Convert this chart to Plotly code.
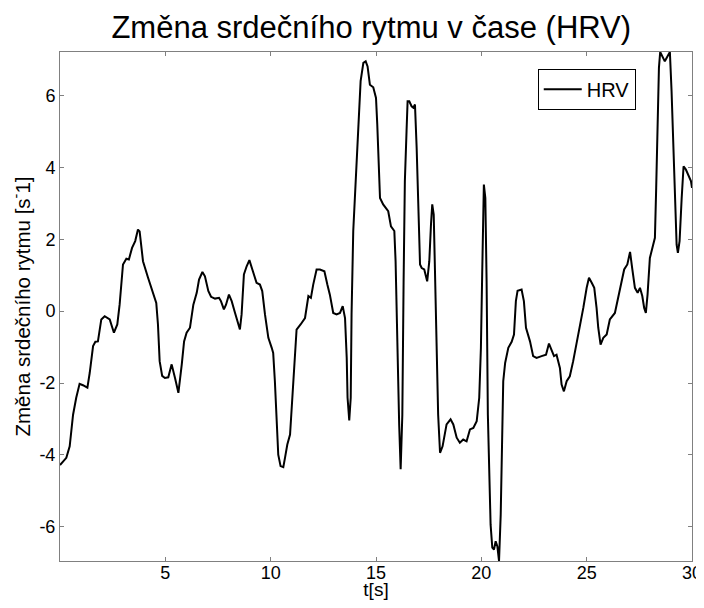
import plotly.graph_objects as go

t = [0.0, 0.3, 0.46, 0.62, 0.77, 0.93, 1.09, 1.30, 1.41, 1.57, 1.68, 1.80, 1.96, 2.12, 2.36, 2.56, 2.72, 2.83, 2.99, 3.15,
     3.27, 3.42, 3.57, 3.70, 3.78, 3.94, 4.18, 4.41, 4.57, 4.65, 4.73, 4.85, 4.98, 5.14, 5.30, 5.46, 5.62, 5.78, 5.89, 6.01,
     6.17, 6.33, 6.49, 6.60, 6.76, 6.88, 7.04, 7.17, 7.36, 7.55, 7.64, 7.78, 7.88, 8.02, 8.15, 8.31, 8.43, 8.54, 8.62, 8.73,
     8.86, 8.99, 9.13, 9.33, 9.49, 9.60, 9.73, 9.89, 10.05, 10.12, 10.20, 10.28, 10.36, 10.47, 10.60, 10.68, 10.79, 10.92, 11.0, 11.11,
     11.23, 11.42, 11.63, 11.79, 11.91, 12.02, 12.18, 12.34, 12.55, 12.69, 12.81, 12.97, 13.13, 13.29, 13.42, 13.53, 13.61, 13.65, 13.73, 13.80,
     13.84, 13.92, 14.05, 14.16, 14.27, 14.40, 14.51, 14.60, 14.71, 14.87, 15.0, 15.06, 15.11, 15.19, 15.34, 15.58, 15.71, 15.87, 15.93, 15.98,
     16.06, 16.10, 16.17, 16.25, 16.31, 16.37, 16.45, 16.50, 16.58, 16.69, 16.77, 16.85, 16.93, 17.01, 17.09, 17.17, 17.29, 17.43, 17.53, 17.61,
     17.67, 17.74, 17.80, 17.88, 17.95, 18.04, 18.16, 18.35, 18.54, 18.67, 18.83, 18.98, 19.14, 19.30, 19.46, 19.62, 19.78, 19.90, 19.98, 20.04,
     20.12, 20.19, 20.25, 20.31, 20.38, 20.44, 20.52, 20.60, 20.68, 20.76, 20.84, 20.92, 20.98, 21.04, 21.13, 21.28, 21.44, 21.55, 21.64, 21.72,
     21.91, 22.02, 22.12, 22.31, 22.46, 22.62, 22.86, 23.07, 23.21, 23.34, 23.45, 23.57, 23.73, 23.81, 23.92, 24.05, 24.20, 24.36, 24.52, 24.68,
     24.84, 25.0, 25.11, 25.24, 25.36, 25.47, 25.55, 25.66, 25.79, 25.95, 26.10, 26.34, 26.50, 26.66, 26.78, 26.93, 27.06, 27.16, 27.29, 27.42,
     27.53, 27.64, 27.73, 27.81, 27.89, 28.0, 28.11, 28.24, 28.30, 28.37, 28.43, 28.49, 28.59, 28.71, 28.84, 28.95, 29.03, 29.11, 29.19, 29.27,
     29.33, 29.41, 29.51, 29.60, 29.71, 29.82, 29.95, 30.0]

hrv = [-4.28, -4.08, -3.76, -2.88, -2.41, -2.02, -2.06, -2.13, -1.72, -0.97, -0.85, -0.84, -0.23, -0.14, -0.23, -0.60, -0.37, 0.18, 1.30, 1.46,
       1.44, 1.76, 1.95, 2.27, 2.22, 1.39, 0.93, 0.51, 0.23, -0.37, -1.39, -1.80, -1.86, -1.84, -1.48, -1.86, -2.27, -1.48, -0.84, -0.60,
       -0.46, 0.18, 0.51, 0.88, 1.09, 0.97, 0.56, 0.40, 0.35, 0.37, 0.28, 0.05, 0.18, 0.46, 0.28, -0.05, -0.28, -0.51, -0.09, 1.02,
       1.25, 1.42, 1.16, 0.79, 0.74, 0.56, -0.09, -0.74, -1.02, -1.16, -1.95, -3.15, -3.99, -4.31, -4.34, -4.08, -3.71, -3.43, -2.69, -1.48,
       -0.51, -0.37, -0.19, 0.42, 0.37, 0.74, 1.16, 1.16, 1.11, 0.74, 0.46, -0.05, -0.09, -0.05, 0.14, -0.19, -1.30, -2.41, -3.04, -2.41,
       -0.09, 2.23, 3.80, 5.10, 6.40, 6.91, 6.95, 6.81, 6.30, 6.23, 5.93, 5.20, 4.26, 3.15, 2.97, 2.78, 2.36, 2.23, 1.39, -0.09,
       -1.95, -3.15, -4.40, -2.88, 0.83, 3.62, 5.01, 5.84, 5.84, 5.70, 5.66, 5.75, 4.54, 2.69, 1.30, 1.20, 1.16, 0.83, 1.39, 2.41,
       2.97, 2.69, 1.30, -1.02, -2.88, -3.94, -3.76, -3.15, -3.01, -3.15, -3.52, -3.66, -3.57, -3.62, -3.29, -3.25, -3.06, -2.41, -1.02, 1.02,
       3.52, 3.15, 0.83, -2.88, -4.73, -5.94, -6.58, -6.63, -6.40, -6.54, -6.95, -5.66, -3.80, -1.95, -1.44, -1.02, -0.85, -0.65, 0.28, 0.57,
       0.60, 0.28, -0.46, -0.84, -1.25, -1.30, -1.25, -1.21, -0.90, -1.07, -1.25, -1.21, -1.58, -2.04, -2.23, -1.95, -1.81, -1.39, -0.93, -0.46,
       0.09, 0.65, 0.93, 0.79, 0.65, 0.09, -0.46, -0.93, -0.74, -0.65, -0.23, -0.05, 0.37, 0.83, 1.16, 1.30, 1.65, 1.20, 0.65, 0.51,
       0.65, 0.42, 0.09, -0.05, 0.46, 1.48, 1.76, 2.04, 3.43, 5.47, 6.77, 7.21, 7.09, 6.95, 7.09, 7.21, 6.12, 4.54, 3.15, 1.85,
       1.62, 1.95, 3.15, 4.03, 3.94, 3.80, 3.62, 3.43]

x_ticks = [5, 10, 15, 20, 25, 30]
x_tick_labels = ["5", "10", "15", "20", "25", "30"]
y_ticks = [-6, -4, -2, 0, 2, 4, 6]
y_tick_labels = ["-6", "-4", "-2", "0", "2", "4", "6"]

FONT = "Liberation Sans, Arial, sans-serif"

fig = go.Figure()
fig.add_trace(go.Scatter(x=t, y=hrv, mode="lines", name="HRV",
                         line=dict(color="black", width=2)))

axis_common = dict(
    showgrid=False, zeroline=False, showline=True, linecolor="#808080", linewidth=1,
    mirror="ticks", ticks="inside", ticklen=4, tickcolor="#808080", tickwidth=1,
    tickfont=dict(family=FONT, size=18, color="black"),
    automargin=False, ticklabeloverflow="allow",
)

# the page body adds an 8 px margin on every side, so the figure is 16 px smaller
fig.update_layout(
    width=688, height=592,
    margin=dict(l=52, r=4, t=44, b=39),
    paper_bgcolor="white", plot_bgcolor="white",
    font=dict(family=FONT, color="black"),
    title=dict(text="Změna srdečního rytmu v čase (HRV)", x=0.528, xanchor="center",
               yref="container", y=0.968, yanchor="middle",
               font=dict(family=FONT, size=31, color="black")),
    showlegend=True,
    legend=dict(x=0.911, xanchor="right", y=0.967, yanchor="top",
                bordercolor="black", borderwidth=1, bgcolor="white", itemwidth=38,
                font=dict(family=FONT, size=20, color="black")),
    xaxis=dict(range=[0, 30], tickvals=x_ticks, ticktext=x_tick_labels,
               ticklabelstandoff=-5,
               title=dict(text="t[s]", font=dict(family=FONT, size=19), standoff=14),
               **axis_common),
    yaxis=dict(range=[-6.95, 7.21], tickvals=y_ticks, ticktext=y_tick_labels,
               title=dict(text="Změna srdečního rytmu [s<sup>-</sup>1]", font=dict(family=FONT, size=20.5), standoff=3),
               **axis_common),
)

fig.write_html("out.html")
